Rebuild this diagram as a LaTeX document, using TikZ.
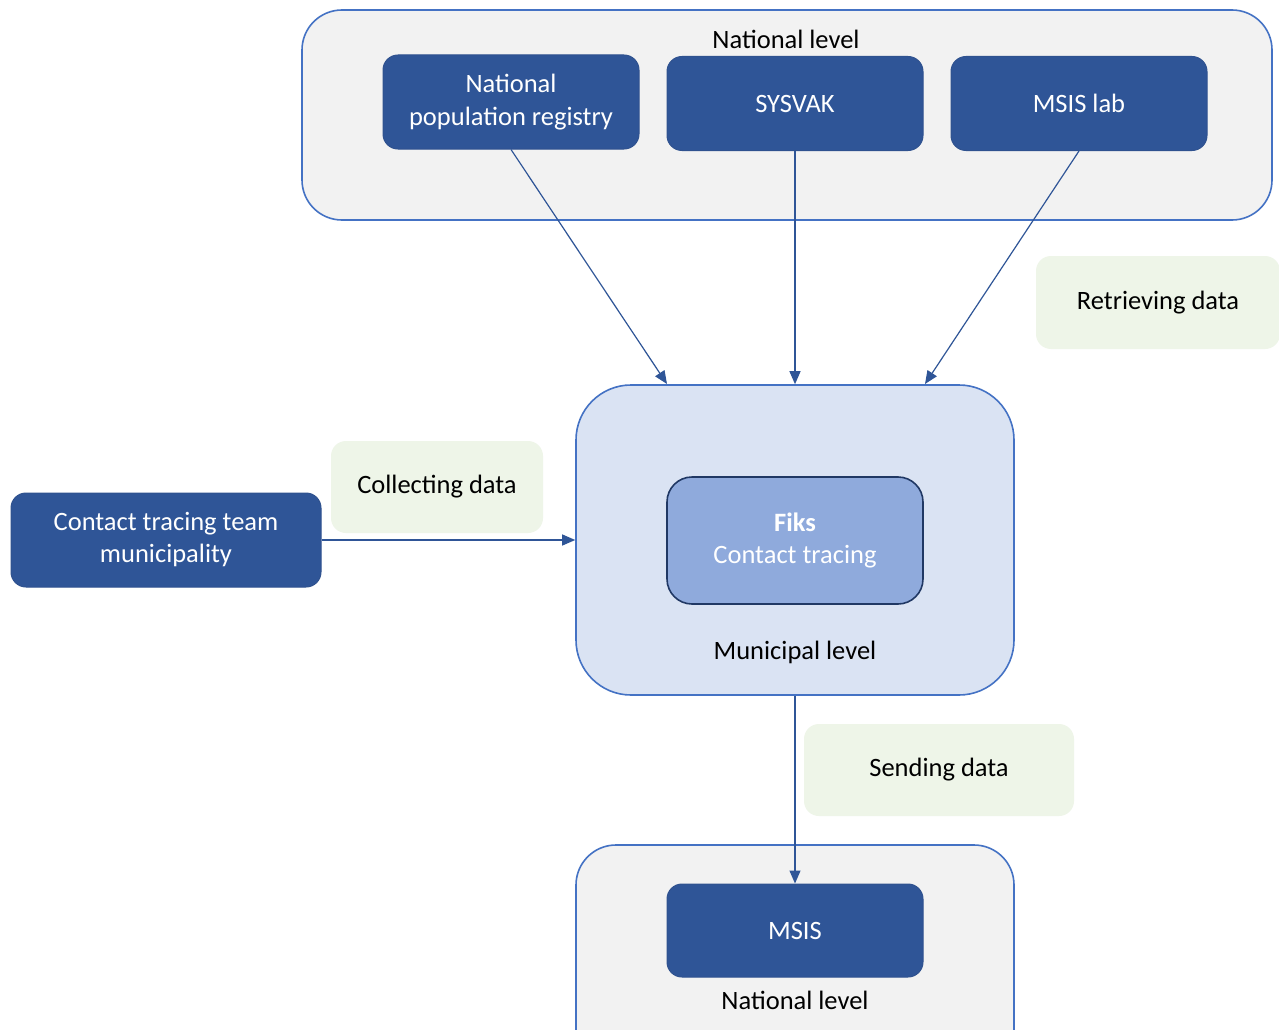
\documentclass[tikz,border=0pt]{standalone}
\usepackage{fontspec}
\setmainfont{Carlito}
\usetikzlibrary{arrows.meta}
\definecolor{darkblue}{HTML}{2F5597}
\definecolor{darkborder}{HTML}{2F528F}
\definecolor{outline}{HTML}{4472C4}
\definecolor{greybg}{HTML}{F2F2F2}
\definecolor{lightblue}{HTML}{DAE3F3}
\definecolor{midblue}{HTML}{8FAADC}
\definecolor{fiksborder}{HTML}{203864}
\definecolor{lightgreen}{HTML}{EEF5E8}
\tikzset{
  every node/.style={font=\fontsize{26.5}{32}\selectfont, inner sep=0pt, align=center},
  levelbox/.style={draw=outline, line width=1.6pt, fill=greybg, rounded corners=40pt},
  munbox/.style={draw=outline, line width=1.6pt, fill=lightblue, rounded corners=55pt},
  sysbox/.style={draw=darkborder, line width=1pt, fill=darkblue, text=white, rounded corners=15pt},
  fiksbox/.style={draw=fiksborder, line width=1.6pt, fill=midblue, text=white, rounded corners=25pt},
  labelbox/.style={fill=lightgreen, rounded corners=15pt, text=black},
  conn/.style={draw=darkblue, line width=1.2pt, -{Triangle[length=13pt,width=11pt]}},
}
\begin{document}
\begin{tikzpicture}[x=1pt,y=-1pt]
\useasboundingbox (0,0) rectangle (1279,1030);
\clip (0,0) rectangle (1279,1030);
\fill[white] (0,0) rectangle (1279,1030);

% top national level
\node[levelbox, minimum width=970pt, minimum height=210pt] (natbox) at (787,115) {};
\node (natlabel) at (786,39) {National level};
\node[sysbox, minimum width=256pt, minimum height=94pt] (npr) at (511,102) {National\\[1pt]population registry};
\node[sysbox, minimum width=256pt, minimum height=94pt] (sysvak) at (795,103.5) {SYSVAK};
\node[sysbox, minimum width=256pt, minimum height=94pt] (msislab) at (1079,103.5) {MSIS lab};

% retrieving data
\node[labelbox, minimum width=244pt, minimum height=93pt] (retr) at (1158,302.5) {Retrieving data};

% municipal level
\node[munbox, minimum width=438pt, minimum height=310pt] (mun) at (795,540) {};
\node[fiksbox, minimum width=256pt, minimum height=127pt] (fiks) at (795,540.5) {\textbf{Fiks}\\Contact tracing};
\node (munlabel) at (795,652) {Municipal level};

% contact tracing team
\node[sysbox, minimum width=310pt, minimum height=94pt] (ctt) at (166,540) {Contact tracing team\\municipality};
\node[labelbox, minimum width=212pt, minimum height=92pt] (coll) at (437,487) {Collecting data};

% sending data
\node[labelbox, minimum width=270pt, minimum height=92pt] (send) at (939,770) {Sending data};

% bottom national level
\node[levelbox, minimum width=438pt, minimum height=230pt] (natbot) at (795,960) {};
\node[sysbox, minimum width=256pt, minimum height=93pt] (msis) at (795,930.5) {MSIS};
\node (natbotlabel) at (795,1000) {National level};

% connectors
\coordinate (a1) at (667,384);
\coordinate (a3) at (925,384);
\draw[conn] (npr.south) -- (a1);
\draw[conn] (sysvak.south) -- (mun.north);
\draw[conn] (msislab.south) -- (a3);
\draw[conn] (ctt.east) -- (mun.west);
\draw[conn] (mun.south) -- (msis.north);
\end{tikzpicture}
\end{document}
